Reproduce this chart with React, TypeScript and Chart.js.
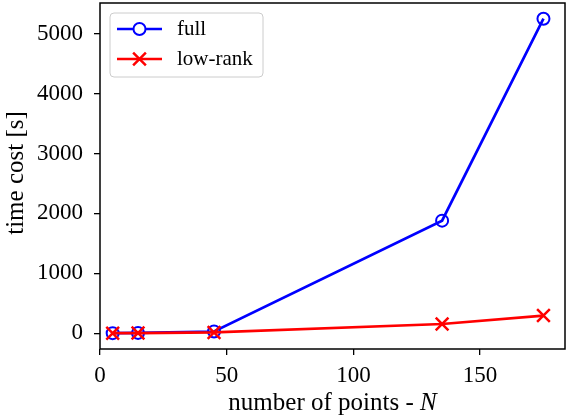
import React, { useEffect, useRef } from "react";
import { Chart, registerables } from "chart.js";

Chart.register(...registerables);

// ---- data ----
const nPoints = [5, 15, 45, 135, 175];
const fullCost = [2, 6, 30, 1880, 5250];
const lowRankCost = [1, 3, 14, 155, 295];
const seriesLabels = ["full", "low-rank"];
const seriesColors = ["#0000ff", "#ff0000"];
const xTicks = [0, 50, 100, 150];
const yTicks = [0, 1000, 2000, 3000, 4000, 5000];
const xLimits = [0, 183.5];
const yLimits = [-262.5, 5512.5];
const xTitle = "number of points - ";
const xTitleVar = "N";
const yTitle = "time cost [s]";

const FONT = '"Liberation Serif", "Times New Roman", serif';

const decorPlugin = {
  id: "decor",
  afterDraw(chart: any) {
    const { ctx, chartArea: a } = chart;
    ctx.save();
    // frame (spines)
    ctx.strokeStyle = "#000";
    ctx.lineWidth = 1.5;
    ctx.strokeRect(a.left, a.top, a.right - a.left, a.bottom - a.top);

    // x title with italic variable
    ctx.fillStyle = "#000";
    ctx.textBaseline = "middle";
    ctx.textAlign = "left";
    ctx.font = `25px ${FONT}`;
    const w1 = ctx.measureText(xTitle).width;
    ctx.font = `italic 25px ${FONT}`;
    const w2 = ctx.measureText(xTitleVar).width;
    const cx = (a.left + a.right) / 2;
    const x0 = cx - (w1 + w2) / 2;
    ctx.font = `25px ${FONT}`;
    ctx.fillText(xTitle, x0, a.bottom + 54);
    ctx.font = `italic 25px ${FONT}`;
    ctx.fillText(xTitleVar, x0 + w1, a.bottom + 54);

    // y title
    ctx.save();
    ctx.translate(23, (a.top + a.bottom) / 2 - 3);
    ctx.rotate(-Math.PI / 2);
    ctx.textAlign = "center";
    ctx.textBaseline = "alphabetic";
    ctx.font = `25px ${FONT}`;
    ctx.fillText(yTitle, 0, 0);
    ctx.restore();

    // legend
    const lx = a.left + 10;
    const ly = a.top + 10;
    const lw = 153;
    const lh = 64;
    ctx.beginPath();
    if ((ctx as any).roundRect) (ctx as any).roundRect(lx, ly, lw, lh, 4);
    else ctx.rect(lx, ly, lw, lh);
    ctx.fillStyle = "rgba(255,255,255,0.8)";
    ctx.fill();
    ctx.strokeStyle = "#cccccc";
    ctx.lineWidth = 1;
    ctx.stroke();

    chart.data.datasets.forEach((ds: any, i: number) => {
      const y = ly + 16 + i * 30;
      const sx = lx + 7;
      const ex = lx + 52;
      const mx = (sx + ex) / 2;
      ctx.strokeStyle = ds.borderColor;
      ctx.lineWidth = 2.7;
      ctx.beginPath();
      ctx.moveTo(sx, y);
      ctx.lineTo(ex, y);
      ctx.stroke();
      if (ds.pointStyle === "circle") {
        ctx.lineWidth = 2;
        ctx.beginPath();
        ctx.arc(mx, y, ds.pointRadius, 0, Math.PI * 2);
        ctx.fillStyle = "#ffffff";
        ctx.fill();
        ctx.stroke();
      } else {
        const d = ds.pointRadius * Math.SQRT1_2;
        ctx.lineWidth = 2.5;
        ctx.beginPath();
        ctx.moveTo(mx - d, y - d);
        ctx.lineTo(mx + d, y + d);
        ctx.moveTo(mx - d, y + d);
        ctx.lineTo(mx + d, y - d);
        ctx.stroke();
      }
      ctx.fillStyle = "#000";
      ctx.font = `21px ${FONT}`;
      ctx.textAlign = "left";
      ctx.textBaseline = "middle";
      ctx.fillText(ds.label, lx + 67, y);
    });
    ctx.restore();
  },
};

const zeroPad = (scale: any) => {
  scale.paddingTop = 0;
  scale.paddingBottom = 0;
  scale.paddingLeft = 0;
  scale.paddingRight = 0;
};

export default function App() {
  const ref = useRef<HTMLCanvasElement>(null);

  useEffect(() => {
    document.body.style.margin = "0";
    if (!ref.current) return;
    const tickFont = { family: FONT, size: 23 };
    const chart = new Chart(ref.current, {
      type: "line",
      data: {
        datasets: [
          {
            label: seriesLabels[0],
            data: nPoints.map((x, i) => ({ x, y: fullCost[i] })),
            borderColor: seriesColors[0],
            backgroundColor: "rgba(0,0,0,0)",
            borderWidth: 2.7,
            pointStyle: "circle",
            pointRadius: 6,
            pointBorderWidth: 2,
            pointBackgroundColor: "rgba(0,0,0,0)",
            pointBorderColor: seriesColors[0],
            tension: 0,
            order: 1,
          },
          {
            label: seriesLabels[1],
            data: nPoints.map((x, i) => ({ x, y: lowRankCost[i] })),
            borderColor: seriesColors[1],
            backgroundColor: "rgba(0,0,0,0)",
            borderWidth: 2.7,
            pointStyle: "crossRot",
            pointRadius: 9,
            pointBorderWidth: 2.5,
            pointBackgroundColor: seriesColors[1],
            pointBorderColor: seriesColors[1],
            tension: 0,
            order: 0,
          },
        ] as any,
      },
      options: {
        animation: false,
        responsive: false,
        devicePixelRatio: 1,
        clip: false as any,
        layout: { autoPadding: false, padding: { left: 0, right: 3, top: 3, bottom: 0 } },
        plugins: {
          legend: { display: false },
          tooltip: { enabled: false },
        },
        scales: {
          x: {
            type: "linear",
            min: xLimits[0],
            max: xLimits[1],
            border: { display: false },
            grid: {
              drawOnChartArea: false,
              drawTicks: true,
              tickLength: 6,
              color: "#000",
              lineWidth: 1.3,
            },
            ticks: {
              font: tickFont,
              color: "#000",
              padding: 7,
              maxRotation: 0,
              callback: (v: any) => String(v),
            },
            afterBuildTicks: (scale: any) => {
              scale.ticks = xTicks.map((v) => ({ value: v }));
            },
            afterFit: (scale: any) => {
              scale.height = 71;
              zeroPad(scale);
            },
          },
          y: {
            type: "linear",
            min: yLimits[0],
            max: yLimits[1],
            border: { display: false },
            grid: {
              drawOnChartArea: false,
              drawTicks: true,
              tickLength: 6,
              color: "#000",
              lineWidth: 1.3,
            },
            ticks: {
              font: tickFont,
              color: "#000",
              padding: 11,
              callback: (v: any) => String(v),
            },
            afterBuildTicks: (scale: any) => {
              scale.ticks = yTicks.map((v) => ({ value: v }));
            },
            afterFit: (scale: any) => {
              scale.width = 100;
              zeroPad(scale);
            },
          },
        },
      },
      plugins: [decorPlugin],
    });
    return () => chart.destroy();
  }, []);

  return (
    <div style={{ width: 568, height: 420 }}>
      <canvas ref={ref} width={568} height={420} />
    </div>
  );
}
